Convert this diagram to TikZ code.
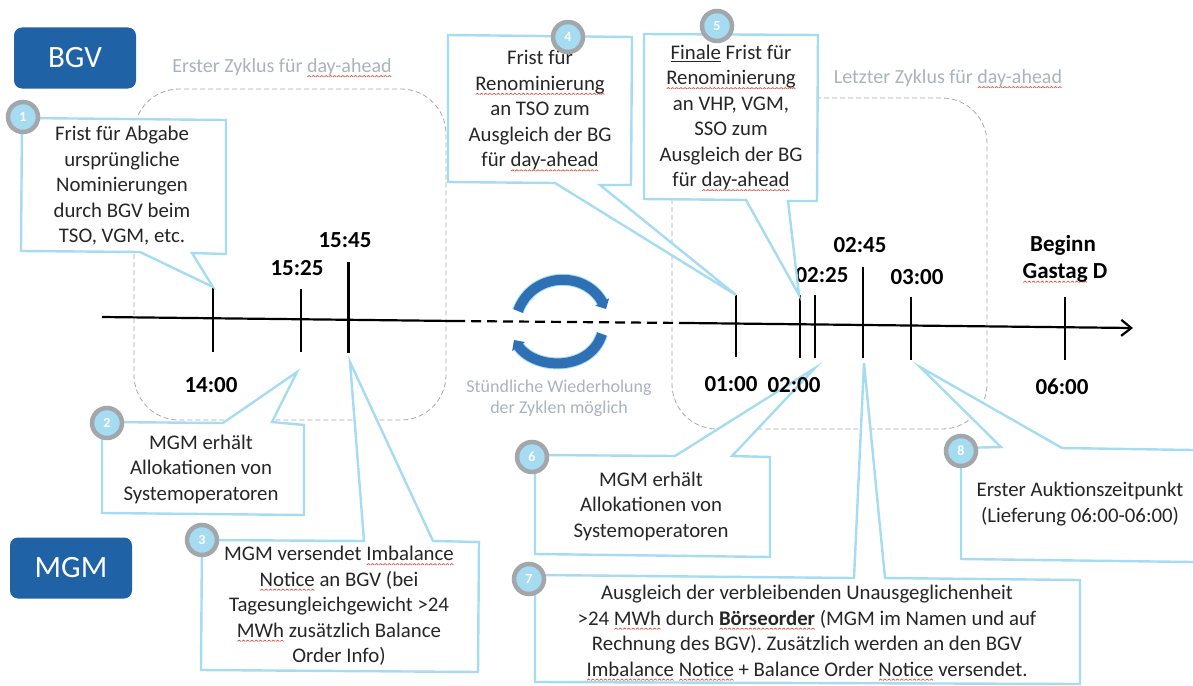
\documentclass[tikz,border=0pt]{standalone}
\usepackage{fontspec}
\setmainfont{Carlito}
\usetikzlibrary{arrows.meta}

\definecolor{boxblue}{HTML}{1F63A6}
\definecolor{calloutblue}{HTML}{A6DCF2}
\definecolor{ringgray}{HTML}{A3A6AA}
\definecolor{framegray}{HTML}{A8A8A8}
\definecolor{captiongray}{HTML}{A9B3BD}
\definecolor{cycleblue}{HTML}{2F6FB3}
\definecolor{spellred}{HTML}{D8503C}

\newcommand{\wavepiece}{\begin{pgfpicture}\pgfsetlinewidth{0.7pt}\pgfsetstrokecolor{spellred}\pgfpathmoveto{\pgfpoint{0pt}{0pt}}\pgfpathlineto{\pgfpoint{1.7pt}{1.3pt}}\pgfpathlineto{\pgfpoint{3.4pt}{0pt}}\pgfusepath{stroke}\end{pgfpicture}}
\newcommand{\wavy}[1]{\setbox0=\hbox{#1}\rlap{\lower4.5pt\hbox to\wd0{\xleaders\hbox{\wavepiece}\hfill}}\box0\relax}

\tikzset{
  rolebox/.style={rounded corners=8pt,fill=boxblue,text=white,minimum width=122pt,minimum height=61pt,font=\fontsize{31}{31}\selectfont},
  frame/.style={draw=framegray,dash pattern=on 5pt off 3pt,line width=0.8pt,rounded corners=45pt},
  caption/.style={text=captiongray,align=center,font=\fontsize{18}{21}\selectfont},
  framecaption/.style={caption,font=\fontsize{20}{21}\selectfont},
  callout/.style={draw=calloutblue,line width=2.4pt,fill=white,line join=miter},
  calltext/.style={align=center,text=black!85,font=\fontsize{20.8}{25.5}\selectfont},
  badge/.style={circle,draw=ringgray,line width=4.5pt,fill=calloutblue,text=white,minimum size=30pt,inner sep=0pt,font=\fontsize{14}{14}\selectfont\bfseries},
  timelabel/.style={text=black,align=center,font=\fontsize{23}{28}\selectfont\bfseries},
  cyclearrow/.style={-{Triangle[length=8pt,width=15pt]},draw=cycleblue,line width=10pt,preaction={draw=calloutblue,line width=12pt}},
  tick/.style={line width=2.2pt}
}

\begin{document}
\begin{tikzpicture}[x=1pt,y=-1pt,line width=2.2pt,>={Straight Barb[length=10pt,width=16pt]}]

        \useasboundingbox (0,0) rectangle (1193,685);

        %coordinates
        \coordinate (O) at (102,317); % Origin
        \coordinate (D1) at (455,321); %dashes start
        \coordinate (D2) at (686,323); %dashes end
        \coordinate (F) at (1133,328); %End

        %roles
        \node[rolebox] (bgv) at (75,58) {BGV};
        \node[rolebox] (mgm) at (71,568) {MGM};

        %cycle frames
        \draw[frame] (134,89) rectangle (446,420);
        \draw[frame] (672,98) rectangle (987,429);
        \node[framecaption] (first) at (282,68) {Erster Zyklus für \wavy{day-ahead}};
        \node[framecaption] (last) at (948,79) {Letzter Zyklus für \wavy{day-ahead}};
        \node[caption] (repeat) at (559,398) {Stündliche Wiederholung \\ der Zyklen möglich};

        %repeat arrows
        \draw[cyclearrow] (518,311) .. controls (532,272) and (585,270) .. (606,309);
        \draw[cyclearrow] (602,334) .. controls (590,372) and (535,370) .. (514,340);

        %main arrow
        \draw (O) -- (D1);
        \draw[dashed,dash pattern=on 10pt off 6pt] (D1) -- (D2);
        \draw[->] (D2) -- (F);

        %ticks
        \foreach \x/\a/\b in {213/288/352,301/289/352,348.5/262/353,736/295/357,800/295/358,815/295/358,863/267/358,911/297/360,1065/297/360}
        \draw[tick] (\x,\a) -- (\x,\b);

        %labels
        \foreach \i/\x/\y/\t in {a/211/385/14:00,b/297/268/15:25,c/345/240/15:45,d/731/384/01:00,e/822/275/02:25,f/860/245/02:45,g/917/277/03:00,h/1062/387/06:00,i/1063/245/Beginn}{
        	\node[timelabel] (time\i) at (\x,\y) {\t};
        }
        \node[timelabel] (gastag) at (1065,273) {\wavy{Gastag} D};

        %callouts
        \draw[callout] (22,118) -- (226,120) -- (226,254) -- (192,253) -- (213,287) -- (140,252) -- (21,251) -- cycle;
        \draw[callout] (102,422) -- (223,423) -- (297,372) -- (272,422) -- (304,425) -- (304,515) -- (102,513) -- cycle;
        \draw[callout] (202,540) -- (364,541) -- (350,362) -- (433,541) -- (479,542) -- (478,672) -- (201,670) -- cycle;
        \draw[callout] (448,35) -- (632,37) -- (631,185) -- (600,185) -- (736,295) -- (555,183) -- (448,182) -- cycle;
        \draw[callout] (644,34) -- (818,35) -- (817,201) -- (788,201) -- (799,295) -- (746,200) -- (644,199) -- cycle;
        \draw[callout] (535,455) -- (675,456) -- (815,368) -- (732,456) -- (770,457) -- (770,557) -- (535,554) -- cycle;
        \draw[callout] (535,575) -- (854,578) -- (864,363) -- (885,578) -- (1080,580) -- (1080,684) -- (535,682) -- cycle;
        \draw[callout] (1193,562) -- (961,559) -- (961,448) -- (1001,447) -- (920,367) -- (1062,448) -- (1193,450);

        \node[timelabel] (timej) at (794,385) {02:00};

        %callout texts
        \node[calltext] (text1) at (122,186) {Frist für Abgabe \\ ursprüngliche \\ Nominierungen \\ durch BGV beim \\ TSO, VGM, etc.};
        \node[calltext] (text2) at (201,469) {MGM erhält \\ Allokationen von \\ Systemoperatoren};
        \node[calltext] (text3) at (339,606) {MGM versendet \wavy{Imbalance} \\ \wavy{Notice} an BGV (bei \\ Tagesungleichgewicht >24 \\ \wavy{MWh} zusätzlich Balance \\ Order Info)};
        \node[calltext] (text4) at (540,111) {Frist für \\ \wavy{Renominierung} \\ an TSO zum \\ Ausgleich der BG \\ für \wavy{day-ahead}};
        \node[calltext] (text5) at (731,118) {\underline{Finale} Frist für \\ \wavy{Renominierung} \\ an VHP, VGM, \\ SSO zum \\ Ausgleich der BG \\ für \wavy{day-ahead}};
        \node[calltext] (text6) at (651,506) {MGM erhält \\ Allokationen von \\ Systemoperatoren};
        \node[calltext] (text7) at (807,633) {Ausgleich der verbleibenden Unausgeglichenheit \\ >24 \wavy{MWh} durch \wavy{\textbf{Börseorder}} (MGM im Namen und auf \\ Rechnung des BGV). Zusätzlich werden an den BGV \\ \wavy{Imbalance} \wavy{Notice} + Balance Order \wavy{Notice} versendet.};
        \node[calltext] (text8) at (1080,504) {Erster Auktionszeitpunkt \\ (Lieferung 06:00-06:00)};

        %badges
        \foreach \n/\x/\y in {1/23/117,2/107/423,3/202/540,4/568/37,5/717/26,6/532/457,7/529/579,8/961/451}
        \node[badge] (badge\n) at (\x,\y) {\n};

\end{tikzpicture}
\end{document}
